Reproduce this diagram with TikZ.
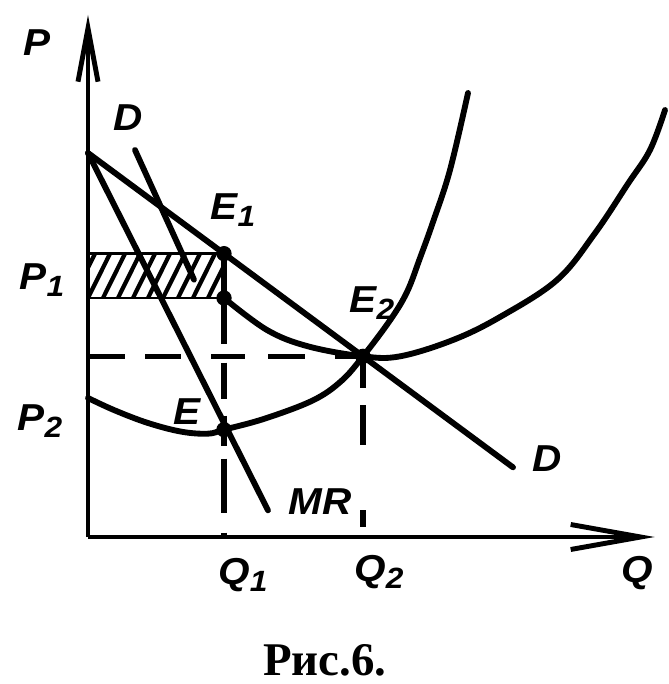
\documentclass[tikz,border=0pt]{standalone}
\usepackage{fontspec}
\newfontfamily\lblfont[FakeStretch=1.08]{Liberation Sans}
\newfontfamily\capfont{Liberation Serif}
\usetikzlibrary{arrows.meta}
\newcommand{\lsub}[1]{\raisebox{-0.35ex}{\fontsize{25}{25}\selectfont #1}}

\begin{document}
\begin{tikzpicture}[
    axis/.style={line width=4.2pt},
    curve/.style={line width=5pt, line cap=round},
    guide/.style={line width=4.5pt},
    hatch/.style={line width=3.6pt},
    dot/.style={circle, fill=black, inner sep=0pt, minimum size=4.6mm},
    lbl/.style={font=\lblfont\bfseries\itshape\fontsize{32}{32}\selectfont, inner sep=0pt},
    caption/.style={font=\capfont\bfseries\fontsize{40}{40}\selectfont, inner sep=0pt}
]

\useasboundingbox (-2.64,-4.41) rectangle (17.43,16.11);

% ================= Key points =================

\coordinate (O) at (0,0);
\coordinate (Ptop) at (0,15.66);
\coordinate (Qend) at (17.0,0);
\coordinate (A) at (0,11.52);       % common start of D and MR
\coordinate (Dend) at (12.75,2.09);
\coordinate (MRend) at (5.4,0.8);
\coordinate (Dtop) at (1.41,11.61);
\coordinate (Dlow) at (3.18,7.72);
\coordinate (E1) at (4.08,8.50);
\coordinate (C1) at (4.08,7.17);    % cost at Q1
\coordinate (E2) at (8.25,5.42);
\coordinate (E) at (4.08,3.22);
\coordinate (Q1) at (4.08,0);
\coordinate (Q2) at (8.25,0);
\coordinate (P0) at (0,5.42);
\coordinate (P1t) at (0,8.50);
\coordinate (P1b) at (0,7.17);

% ================= Hatched area =================

\begin{scope}
    \clip (P1b) rectangle (E1);
    \foreach \i in {-2,...,9}
        \draw[hatch] (\i*0.45,7.17) -- ++(0.66,1.33);
\end{scope}
\draw[line width=2pt] (P1t) -- (E1);
\draw[line width=2pt] (P1b) -- (C1);

% ================= Axes =================

\draw[axis, -{Straight Barb[length=16mm, width=6mm]}] (O) -- (Ptop);
\draw[axis, -{Straight Barb[length=21mm, width=7.5mm]}] (O) -- (Qend);

% ================= Guides =================

\draw[guide] (E1) -- (Q1) [dash pattern=on 2.7cm off 0.57cm on 1.08cm off 0.51cm on 0.9cm off 0.39cm on 1.62cm off 0.6cm on 0.4cm];
\draw[guide, dash pattern=on 1.11cm off 0.6cm on 1.08cm off 0.9cm on 1.02cm off 0.69cm on 1.11cm off 0.9cm on 1cm] (P0) -- (E2);
\draw[guide, dash pattern=on 0.96cm off 0.51cm on 1.2cm off 1.95cm on 0.5cm off 1cm] (E2) -- (Q2);

% ================= Lines and curves =================

\draw[curve] (A) -- (Dend);
\draw[curve] (A) -- (MRend);
\draw[curve] (Dtop) -- (Dlow);

% average cost
\draw[curve] plot[smooth, tension=0.6] coordinates {(C1) (5.37,6.21) (6.6,5.72) (E2) (9.36,5.42) (10.95,5.91) (12.36,6.60) (14.07,7.71) (15.2,9.1) (16.2,10.6) (16.86,11.61) (17.31,12.81)};

% marginal cost
\draw[curve] plot[smooth, tension=0.6] coordinates {(0,4.17) (0.8,3.8) (1.8,3.42) (2.8,3.16) (3.6,3.1) (E) (5.3,3.55) (6.75,4.1) (7.6,4.68) (E2) (9.06,6.5) (9.57,7.35) (9.96,8.37) (10.35,9.45) (10.86,11.01) (11.40,13.32)};

% ================= Points =================

\node[dot] (dE1) at (E1) {};
\node[dot] (dC1) at (C1) {};
\node[dot] (dE2) at (E2) {};
\node[dot] (dE) at (E) {};

% ================= Labels =================

\node[lbl] (lP) at (-1.53,14.82) {P};
\node[lbl] (lDtop) at (1.20,12.57) {D};
\node[lbl] (lE1) at (4.35,9.81) {E\lsub{1}};
\node[lbl] (lP1) at (-1.38,7.71) {P\lsub{1}};
\node[lbl] (lE2) at (8.52,7.02) {E\lsub{2}};
\node[lbl] (lP2) at (-1.44,3.48) {P\lsub{2}};
\node[lbl] (lE) at (2.97,3.75) {E};
\node[lbl] (lMR) at (6.96,1.05) {MR};
\node[lbl] (lDend) at (13.77,2.34) {D};
\node[lbl] (lQ1) at (4.65,-1.14) {Q\lsub{1}};
\node[lbl] (lQ2) at (8.73,-1.05) {Q\lsub{2}};
\node[lbl] (lQ) at (16.47,-1.08) {Q};

\node[caption, anchor=base] (fig) at (7.11,-4.14) {Рис.6.};

\end{tikzpicture}
\end{document}
